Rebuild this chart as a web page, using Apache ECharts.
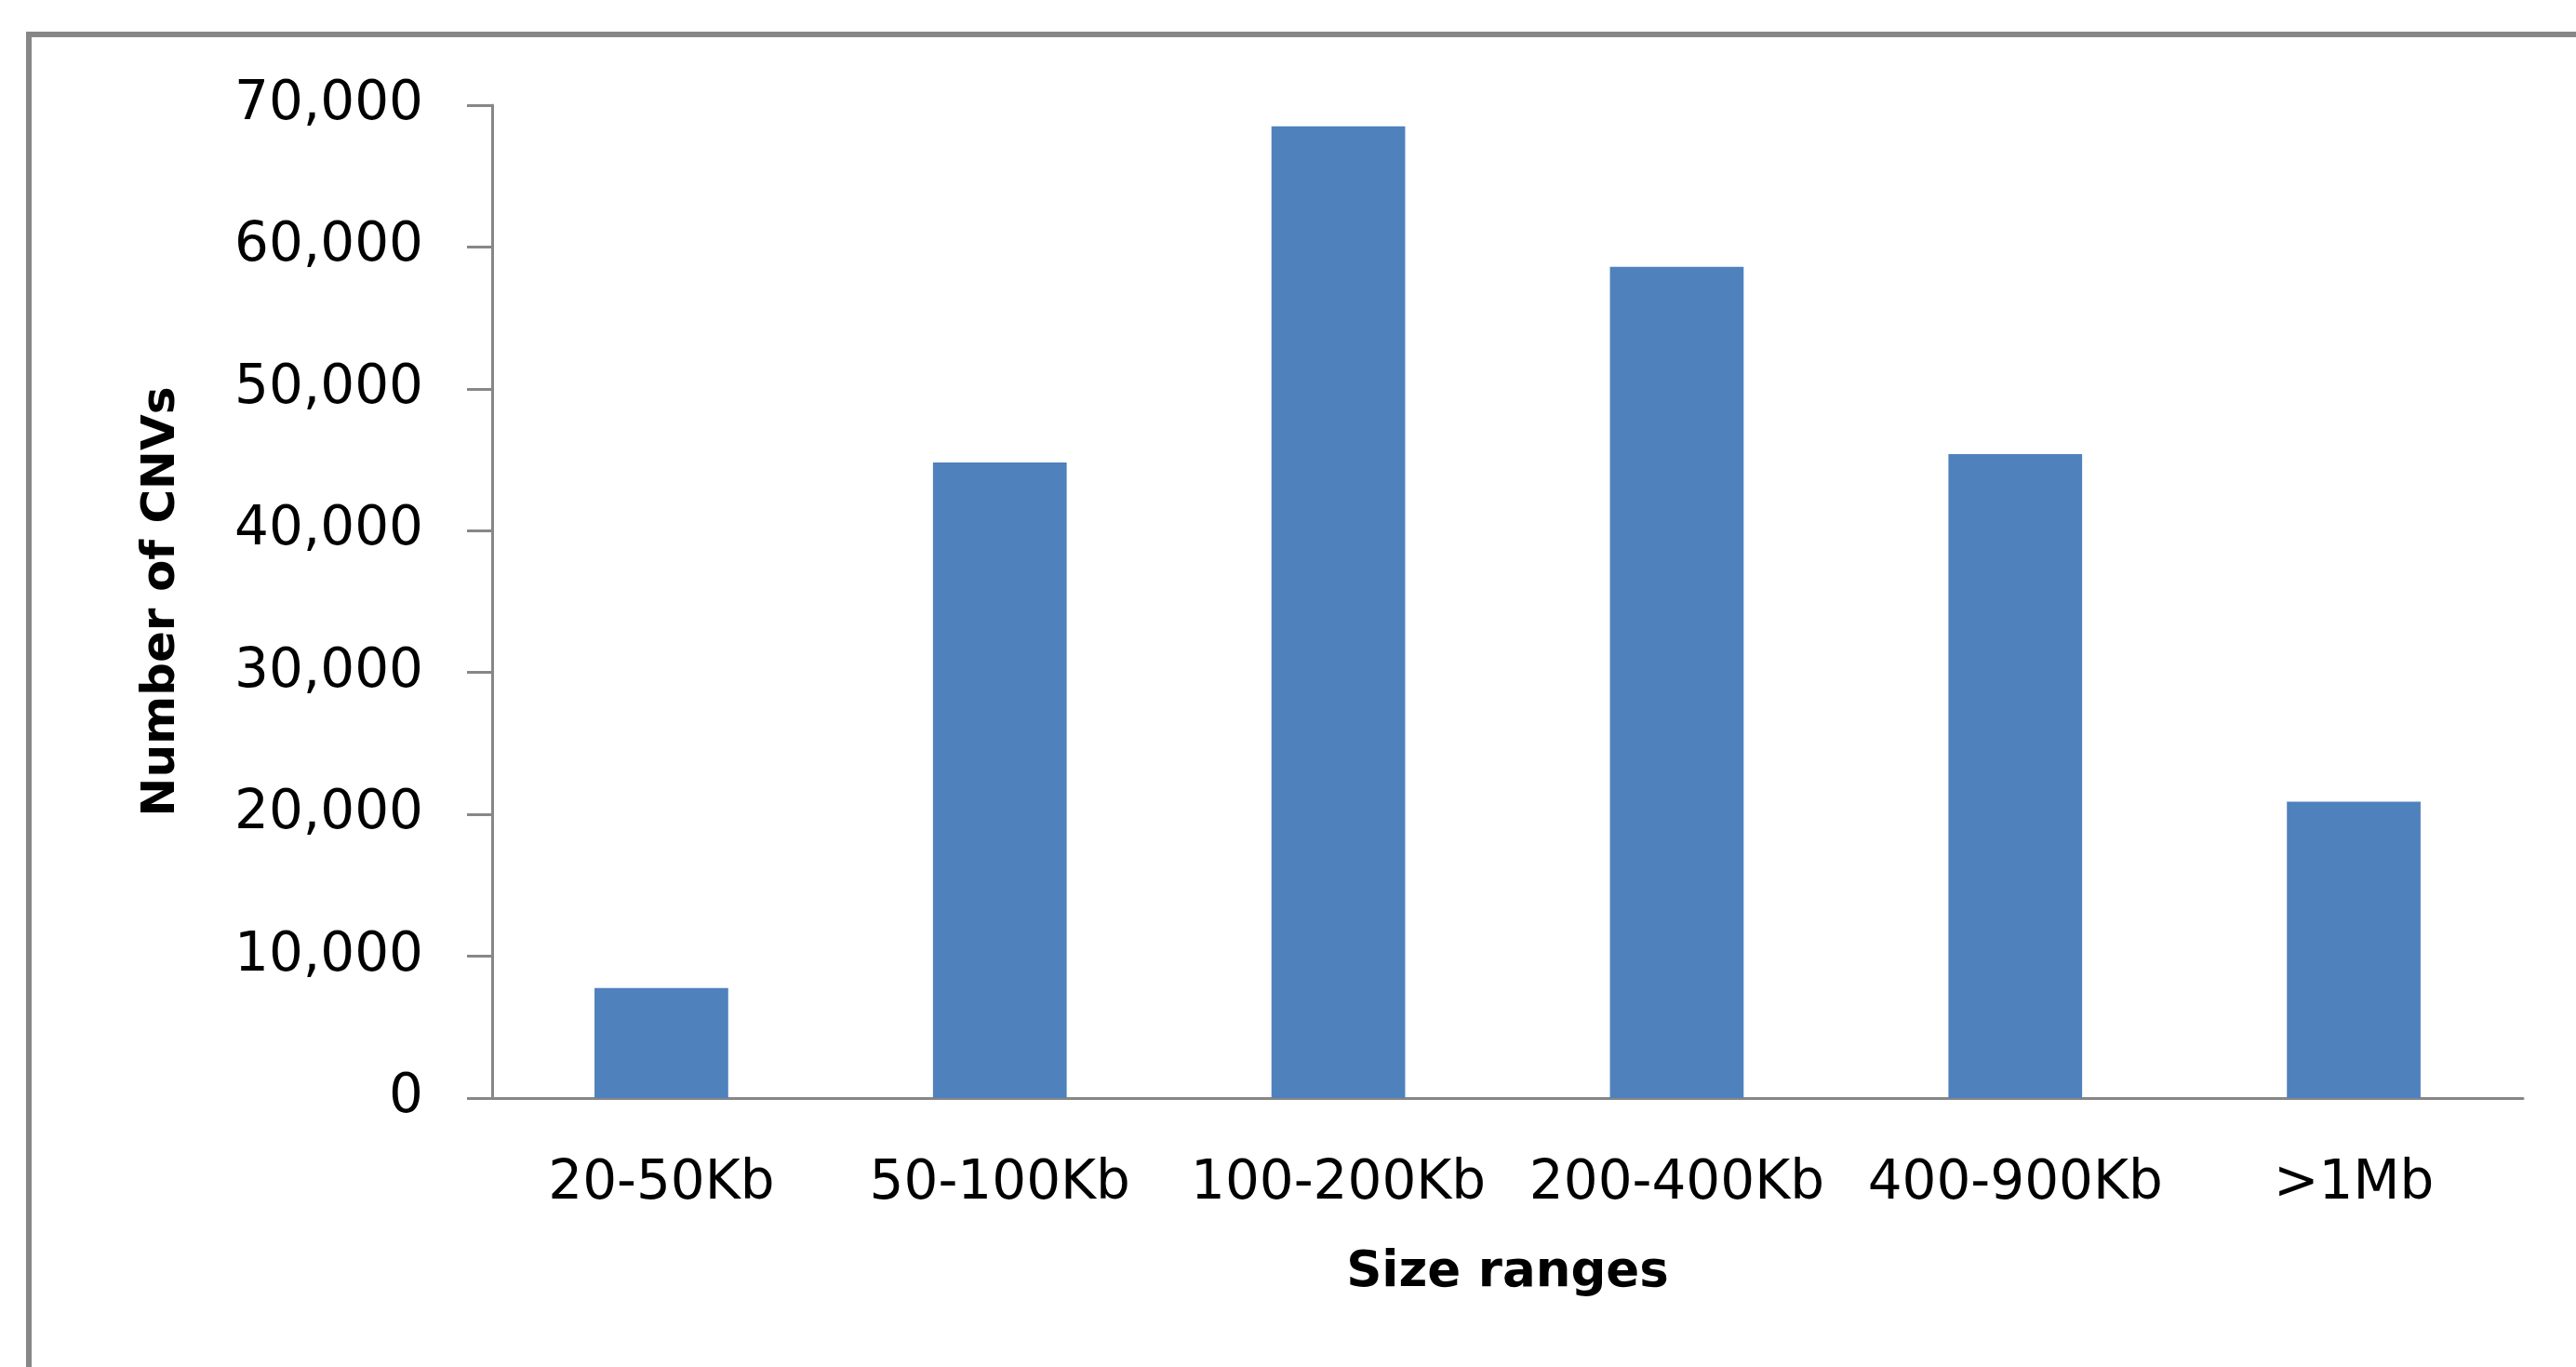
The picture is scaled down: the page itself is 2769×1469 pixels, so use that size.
<!DOCTYPE html>
<html>
<head>
<meta charset="utf-8">
<style>
html,body{margin:0;padding:0;background:#fff;}
#chart{width:2769px;height:1469px;}
</style>
<script src="https://cdn.jsdelivr.net/npm/echarts@6/dist/echarts.min.js"></script>
</head>
<body>
<div id="chart"></div>
<script>
const categories = ['20-50Kb', '50-100Kb', '100-200Kb', '200-400Kb', '400-900Kb', '>1Mb'];
const cnvCounts = [7750, 44800, 68500, 58600, 45400, 20900];
const yTickMin = 0, yTickMax = 70000, yTickStep = 10000;
const xAxisTitle = 'Size ranges';
const yAxisTitle = 'Number of CNVs';

const chart = echarts.init(document.getElementById('chart'), null, {renderer: 'canvas'});
const axisGray = '#878787';
chart.setOption({
  animation: false,
  backgroundColor: '#ffffff',
  graphic: [{
    type: 'rect',
    shape: {x: 31, y: 37, width: 2900, height: 1600},
    style: {fill: 'none', stroke: '#878787', lineWidth: 6},
    silent: true
  }],
  grid: {left: 529, right: 57, top: 113, bottom: 289, containLabel: false},
  xAxis: {
    type: 'category',
    data: categories,
    axisLine: {show: true, lineStyle: {color: axisGray, width: 3}},
    axisTick: {show: false},
    axisLabel: {color: '#000', fontFamily: 'DejaVu Sans', fontSize: 58, margin: 64, interval: 0},
    name: xAxisTitle,
    nameLocation: 'middle',
    nameGap: 162,
    nameTextStyle: {color: '#000', fontFamily: 'DejaVu Sans', fontWeight: 'bold', fontSize: 53}
  },
  yAxis: {
    type: 'value',
    min: yTickMin, max: yTickMax, interval: yTickStep,
    axisLine: {show: true, lineStyle: {color: axisGray, width: 3}},
    axisTick: {show: true, inside: false, length: 27, lineStyle: {color: axisGray, width: 3}},
    splitLine: {show: false},
    axisLabel: {
      color: '#000', fontFamily: 'DejaVu Sans', fontSize: 58, margin: 74,
      formatter: v => v.toLocaleString('en-US')
    },
    name: yAxisTitle,
    nameLocation: 'middle',
    nameGap: 330,
    nameRotate: 90,
    nameTextStyle: {color: '#000', fontFamily: 'DejaVu Sans', fontWeight: 'bold', fontSize: 50}
  },
  series: [{
    type: 'bar',
    data: cnvCounts,
    barWidth: '39.5%',
    itemStyle: {color: '#4F81BD'}
  }]
});
</script>
</body>
</html>
